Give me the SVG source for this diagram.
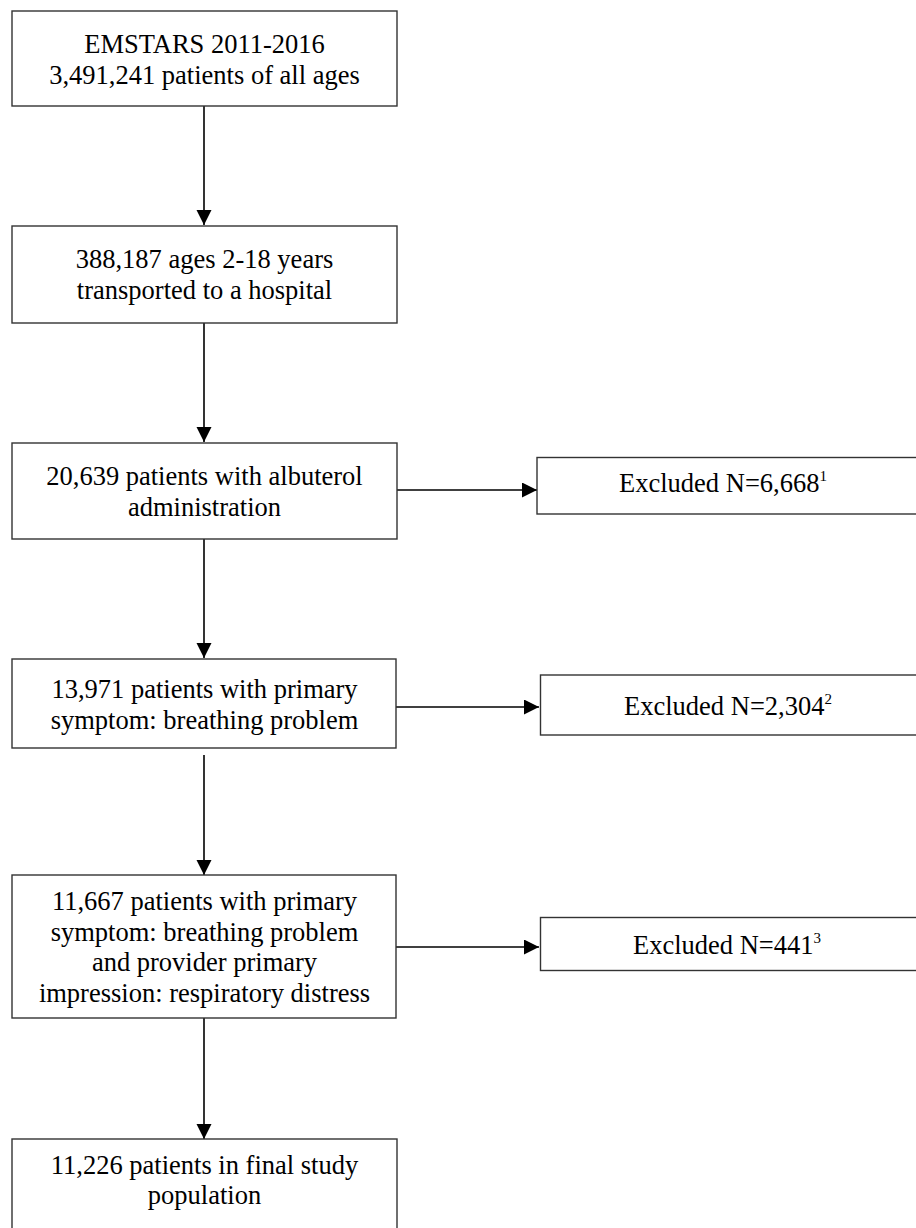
<svg xmlns="http://www.w3.org/2000/svg" width="916" height="1228" viewBox="0 0 916 1228">
<style>
.box{fill:#fff;stroke:#333;stroke-width:1.4}
.t{font-family:"Liberation Serif","Times New Roman",serif;font-size:26.5px;fill:#000;text-anchor:middle}
.sup{font-size:15px}
.c{stroke:#000;stroke-width:1.6;fill:none}
</style>
<defs>
<marker id="ah" markerUnits="userSpaceOnUse" markerWidth="16" markerHeight="16" refX="15" refY="7.5" orient="auto">
<path d="M0,0 L15,7.5 L0,15 z" fill="#000"/>
</marker>
</defs>
<rect width="916" height="1228" fill="#fff"/>
<g id="connectors">
<line class="c" x1="204" y1="106" x2="204" y2="225" marker-end="url(#ah)"/>
<line class="c" x1="204" y1="323" x2="204" y2="442" marker-end="url(#ah)"/>
<line class="c" x1="204" y1="539" x2="204" y2="658" marker-end="url(#ah)"/>
<line class="c" x1="204" y1="755" x2="204" y2="875" marker-end="url(#ah)"/>
<line class="c" x1="204" y1="1018" x2="204" y2="1139" marker-end="url(#ah)"/>
<line class="c" x1="397" y1="490" x2="537" y2="490" marker-end="url(#ah)"/>
<line class="c" x1="396" y1="707" x2="539" y2="707" marker-end="url(#ah)"/>
<line class="c" x1="396" y1="947" x2="539" y2="947" marker-end="url(#ah)"/>
</g>
<g id="n1">
<rect class="box" x="12" y="11" width="385" height="95"/>
<text class="t" x="204.5" y="53">EMSTARS 2011-2016</text>
<text class="t" x="204.5" y="83.5">3,491,241 patients of all ages</text>
</g>
<g id="n2">
<rect class="box" x="12" y="226" width="385" height="97"/>
<text class="t" x="204.5" y="268">388,187 ages 2-18 years</text>
<text class="t" x="204.5" y="298.5">transported to a hospital</text>
</g>
<g id="n3">
<rect class="box" x="12" y="443" width="385" height="96"/>
<text class="t" x="204.5" y="485">20,639 patients with albuterol</text>
<text class="t" x="204.5" y="515.5">administration</text>
</g>
<g id="n4">
<rect class="box" x="12" y="659" width="384" height="89"/>
<text class="t" x="204.5" y="697.5">13,971 patients with primary</text>
<text class="t" x="204.5" y="728.5">symptom: breathing problem</text>
</g>
<g id="n5">
<rect class="box" x="12" y="875" width="384" height="143"/>
<text class="t" x="204.5" y="910">11,667 patients with primary</text>
<text class="t" x="204.5" y="940.5">symptom: breathing problem</text>
<text class="t" x="204.5" y="971">and provider primary</text>
<text class="t" x="204.5" y="1001.5">impression: respiratory distress</text>
</g>
<g id="n6">
<rect class="box" x="12" y="1139" width="385" height="100"/>
<text class="t" x="204.5" y="1173.5">11,226 patients in final study</text>
<text class="t" x="204.5" y="1203.5">population</text>
</g>
<g id="e1">
<rect class="box" x="537" y="457.5" width="400" height="56.5"/>
<text class="t" x="723" y="492">Excluded N=6,668<tspan class="sup" dy="-11">1</tspan></text>
</g>
<g id="e2">
<rect class="box" x="540.5" y="675" width="400" height="60"/>
<text class="t" x="728" y="714.5">Excluded N=2,304<tspan class="sup" dy="-11">2</tspan></text>
</g>
<g id="e3">
<rect class="box" x="540.5" y="917.5" width="400" height="53"/>
<text class="t" x="727" y="953.5">Excluded N=441<tspan class="sup" dy="-11">3</tspan></text>
</g>
</svg>
